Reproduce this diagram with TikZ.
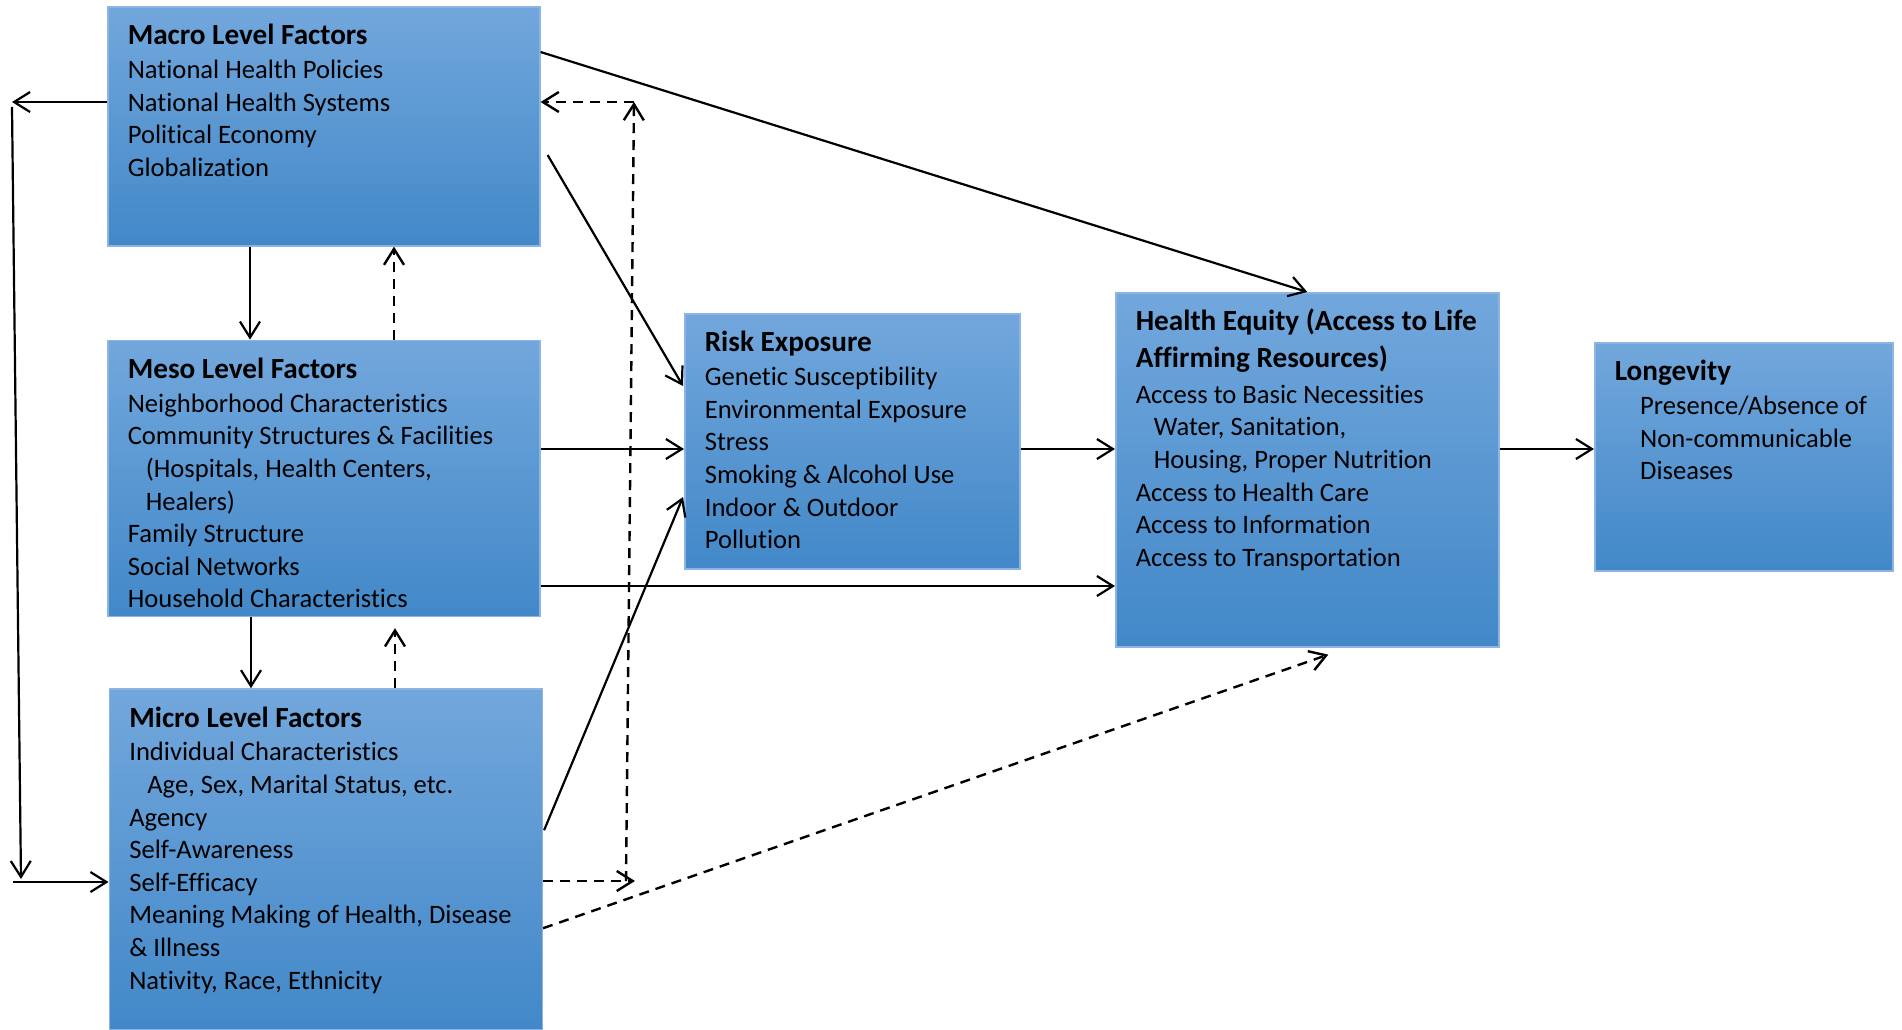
\documentclass[tikz,border=0pt]{standalone}
\usepackage{fontspec}
\setmainfont{Carlito}[Ligatures=NoCommon]
\usepackage{xcolor}
\usepackage{tikz}
\usetikzlibrary{positioning,arrows.meta,calc}

\definecolor{boxtop}{RGB}{114,167,220}
\definecolor{boxbot}{RGB}{66,136,200}
\definecolor{boxedge}{RGB}{141,180,226}

\newcommand{\boxtext}[3]{\parbox[c][#2][t]{#1}{\raggedright\leftskip=10pt\fontsize{13.3}{16.3}\selectfont #3}}
\newcommand{\facthead}[1]{\rule{0pt}{19pt}{\fontsize{14.6}{16.3}\selectfont\bfseries #1}}
\newcommand{\sublevel}{\hspace*{9pt}}

\begin{document}
\begin{tikzpicture}[x=0.5pt, y=-0.5pt,
        factor/.style={draw=boxedge, line width=0.8pt, top color=boxtop, bottom color=boxbot, inner sep=0pt, anchor=north west},
        arr/.style={-{Straight Barb[length=8pt,width=10pt]}, line width=1.1pt},
        dsh/.style={arr, line width=1.2pt, dash pattern=on 5pt off 3.5pt}]
            \useasboundingbox (0,0) rectangle (1902,1029);
            \node (macro)  [factor] at (107,6) {\boxtext{216pt}{119.5pt}{\facthead{Macro Level Factors}\\[0.6pt]
                National Health Policies\\ National Health Systems\\ Political Economy\\ Globalization}};
            \node (meso)   [factor, below=46.5pt of macro] {\boxtext{216pt}{138pt}{\facthead{Meso Level Factors}\\[0.6pt]
                Neighborhood Characteristics\\ Community Structures \& Facilities\\ \sublevel(Hospitals, Health Centers,\\ \sublevel Healers)\\
                Family Structure\\ Social Networks\\ Household Characteristics}};
            \node (micro)  [factor, below=35.5pt of meso, xshift=1pt] {\boxtext{216.5pt}{170.5pt}{\facthead{Micro Level Factors}\\[0.6pt]
                Individual Characteristics\\ \sublevel Age, Sex, Marital Status, etc.\\ Agency\\ Self-Awareness\\ Self-Efficacy\\
                Meaning Making of Health, Disease\\ \& Illness\\ Nativity, Race, Ethnicity}};
            \node (risk)   [factor] at (684,313) {\boxtext{167.5pt}{127.5pt}{\facthead{Risk Exposure}\\[0.6pt]
                Genetic Susceptibility\\ Environmental Exposure\\ Stress\\ Smoking \& Alcohol Use\\ Indoor \& Outdoor\\ Pollution}};
            \node (equity) [factor] at (1115,292) {\boxtext{191.5pt}{177pt}{\facthead{Health Equity (Access to Life}\\[1.8pt]
                {\fontsize{14.6}{16.3}\selectfont\bfseries Affirming Resources)}\\[1.8pt]
                Access to Basic Necessities\\ \sublevel Water, Sanitation,\\ \sublevel Housing, Proper Nutrition\\
                Access to Health Care\\ Access to Information\\ Access to Transportation}};
            \node (longev) [factor] at (1594,342) {\boxtext{149pt}{114pt}{\facthead{Longevity}\\[0.6pt]
                \hspace*{12.7pt}Presence/Absence of\\ \hspace*{12.7pt}Non-communicable\\ \hspace*{12.7pt}Diseases}};
            \coordinate (lefttop) at (12,102);
            \coordinate (leftbot) at (21,879);
            \coordinate (leftin)  at (13,882);
            \coordinate (dashtop) at (634,102);
            \coordinate (dashbot) at (626,881);
            \coordinate (dashend) at (635,881);
            \coordinate (mid)     at (0,449);
            \coordinate (low)     at (0,586);
            \draw[arr] (macro.west |- lefttop) -- (lefttop);
            \draw[arr] ($(lefttop)+(0,5)$) -- (leftbot);
            \draw[arr] (leftin) -- (leftin -| micro.west);
            \draw[arr] ($(macro.south west)+(143,0)$) -- ($(macro.south west |- meso.north)+(143,0)$);
            \draw[dsh] ($(meso.north west)+(287,0)$) -- ($(meso.north west |- macro.south)+(287,0)$);
            \draw[arr] ($(meso.south west)+(144,0)$) -- ($(meso.south west |- micro.north)+(144,0)$);
            \draw[dsh] ($(meso.south west |- micro.north)+(288,0)$) -- ($(meso.south west)+(288,11)$);
            \draw[arr] ($(macro.north east)+(0,46)$) -- (equity.north);
            \draw[arr] ($(macro.north east)+(7,149)$) -- ($(risk.north west)+(-1,73)$);
            \draw[arr] (meso.east |- mid) -- (risk.west |- mid);
            \draw[arr] (risk.east |- mid) -- (equity.west |- mid);
            \draw[arr] (equity.east |- mid) -- (longev.west |- mid);
            \draw[arr] (meso.east |- low) -- (equity.west |- low);
            \draw[arr] ($(micro.north east)+(1,142)$) -- ($(risk.north west)+(-1,184)$);
            \draw[dsh] ($(micro.north east)+(0,240)$) -- ($(equity.south)+(21,7)$);
            \draw[dsh] (micro.east |- dashend) -- (dashend);
            \draw[dsh] (dashbot) -- (dashtop);
            \draw[dsh] (dashtop) -- (dashtop -| macro.east);
        \end{tikzpicture}
\end{document}
